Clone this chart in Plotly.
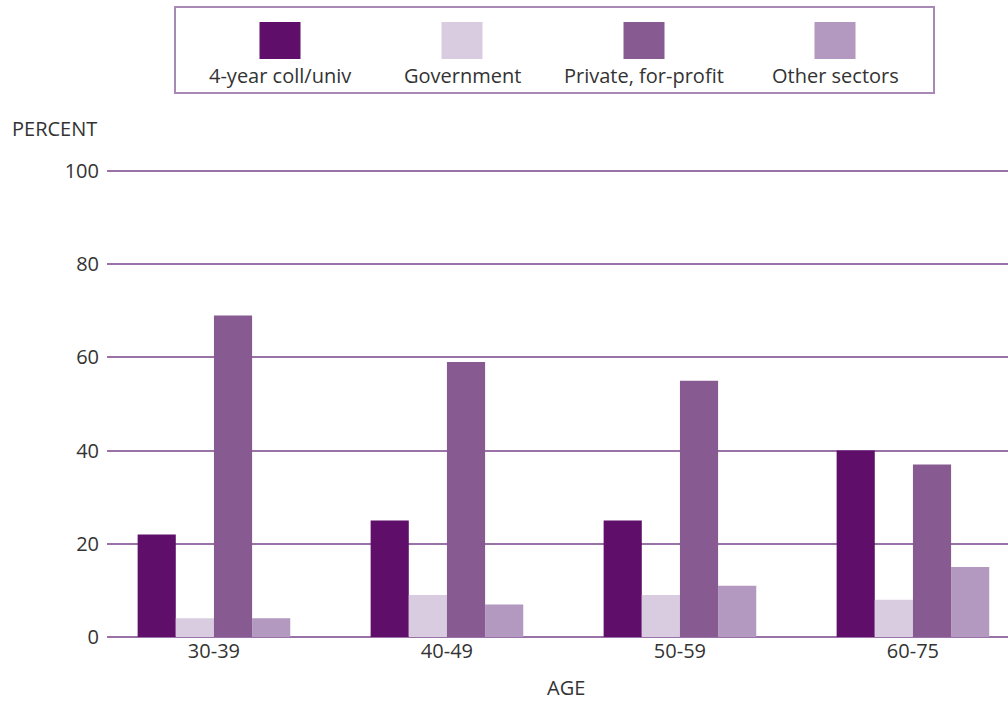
import plotly.graph_objects as go

# Age groups and share of each employment sector (percent)
age_groups = ["30-39", "40-49", "50-59", "60-75"]
sector_names = ["4-year coll/univ", "Government", "Private, for-profit", "Other sectors"]
coll_univ = [22, 25, 25, 40]
government = [4, 9, 9, 8]
private_fp = [69, 59, 55, 37]
other_sectors = [4, 7, 11, 15]
y_ticks = [0, 20, 40, 60, 80, 100]

series = [coll_univ, government, private_fp, other_sectors]
colors = ["#5f0f69", "#d9cce0", "#875b91", "#b398c0"]

W, H = 1008, 701
L, R, T, B = 107, 0, 168, 64
plot_w = W - L - R
plot_h = H - T - B
y_max = 100 * plot_h / (637 - 171)  # a little headroom so the 100 line is visible

FONT = "Open Sans, Lato, sans-serif"
TXT = "#333333"
FS = 20

fig = go.Figure()
for name, vals, col in zip(sector_names, series, colors):
    fig.add_trace(go.Bar(x=age_groups, y=vals, name=name, marker_color=col,
                         marker_line_width=0, showlegend=False))


def px_x(p):
    return (p - L) / plot_w


def px_y(p):
    return (H - B - p) / plot_h


# Legend box with swatches above their labels
shapes = [dict(type="rect", xref="paper", yref="paper",
               x0=px_x(175), x1=px_x(934), y0=px_y(93), y1=px_y(7),
               line=dict(color="#a888b5", width=2), fillcolor="rgba(0,0,0,0)")]
annotations = []
label_centers = [280, 462, 644, 835]
for cx, name, col in zip(label_centers, sector_names, colors):
    shapes.append(dict(type="rect", xref="paper", yref="paper",
                       x0=px_x(cx - 20.5), x1=px_x(cx + 20.5),
                       y0=px_y(59), y1=px_y(22),
                       line=dict(width=0), fillcolor=col))
    annotations.append(dict(text=name, xref="paper", yref="paper",
                            x=px_x(cx), y=px_y(76), xanchor="center", yanchor="middle",
                            showarrow=False, font=dict(size=FS, color=TXT)))

annotations.append(dict(text="PERCENT", xref="paper", yref="paper",
                        x=px_x(10), y=px_y(128), xanchor="left", yanchor="middle",
                        showarrow=False, font=dict(size=FS, color=TXT)))
annotations.append(dict(text="AGE", xref="paper", yref="paper",
                        x=px_x(566), y=px_y(687), xanchor="center", yanchor="middle",
                        showarrow=False, borderpad=0, font=dict(size=FS, color=TXT)))

fig.update_layout(
    width=W, height=H,
    margin=dict(l=L, r=R, t=T, b=B, pad=0),
    paper_bgcolor="white", plot_bgcolor="white",
    font=dict(family=FONT, size=FS, color=TXT),
    barmode="group", bargap=0.345, bargroupgap=0,
    shapes=shapes, annotations=annotations,
    xaxis=dict(range=[-0.459, 3.408], showgrid=False, showline=False, zeroline=False,
               ticks="", tickfont=dict(size=FS, color=TXT), fixedrange=True),
    yaxis=dict(range=[0, y_max], tickvals=y_ticks, showgrid=True, gridcolor="#9a72a8",
               gridwidth=1.5, zeroline=True, zerolinecolor="#9a72a8", zerolinewidth=1.5,
               showline=False, ticks="", ticklabelstandoff=7,
               tickfont=dict(size=FS, color=TXT), fixedrange=True),
)

fig.write_html("out.html", config={"displayModeBar": False})
